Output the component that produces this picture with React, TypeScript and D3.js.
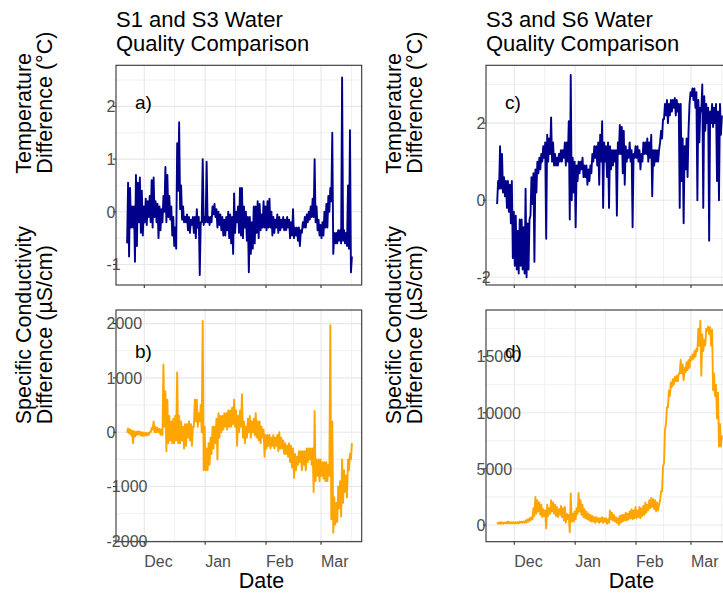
import React, { useEffect, useRef } from 'react'
import * as d3 from 'd3'

const DAY = 864e5
const firstDay = new Date(2021, 10, 22)
const monthBreaks = [new Date(2021, 11, 1), new Date(2022, 0, 1), new Date(2022, 1, 1), new Date(2022, 2, 1)]
const minorEdges = [new Date(2021, 10, 1), ...monthBreaks, new Date(2022, 3, 1)]

// daily [low, high], starting Nov 22
const tempS1S3 = [
  [-0.6,0.55],[-0.85,0.45],[-0.3,0.1],[-0.3,0.1],[-0.95,0.7],[-0.65,0.55],[-0.2,0.65],[-0.4,0.4],[-0.45,0.1],
  [-0.2,0.25],[-0.25,0.2],[-0.1,0.3],[-0.2,0.6],[-0.3,0.65],[-0.1,0.2],[-0.2,0.15],[-0.5,0.1],[-0.35,0.05],[-0.2,0.3],
  [0.0,0.85],[-0.2,0.7],[-0.1,0.3],[-0.15,0.1],[-0.45,-0.1],[-0.65,-0.3],[-0.7,1.3],[0.4,1.7],[0.05,0.5],[-0.15,0.1],
  [-0.2,-0.1],[-0.2,-0.05],[-0.35,-0.1],[-0.4,-0.15],[-0.25,-0.1],[-0.4,-0.1],[-0.5,0.05],[-0.3,-0.1],[-1.2,-0.2],[-0.2,1.0],
  [-0.25,-0.1],
  [-0.2,0.95],[-0.2,-0.1],[-0.25,-0.1],[-0.2,0.1],[-0.05,0.15],[-0.1,0.05],[-0.3,0.0],[-0.25,-0.05],[-0.35,-0.1],[-0.45,-0.15],
  [-0.45,-0.1],[-0.35,0.0],[-0.5,-0.05],[-0.6,-0.1],[-0.8,0.35],[-0.4,0.0],[-0.2,0.1],[-0.4,0.45],[-0.45,0.45],[-0.5,0.1],
  [-0.3,0.0],[-0.55,-0.1],[-1.15,-0.1],[-0.8,-0.2],[-0.7,0.1],[-0.6,0.1],[-0.4,0.2],[-0.5,0.15],[-0.35,-0.05],[-0.3,0.2],
  [-0.3,0.1],
  [-0.35,0.2],[-0.3,0.25],[-0.3,0.0],[-0.45,-0.1],[-0.4,-0.15],[-0.3,-0.05],[-0.4,-0.1],[-0.35,-0.15],[-0.3,-0.1],[-0.35,-0.15],
  [-0.35,-0.1],[-0.3,-0.15],[-0.5,-0.2],[-0.45,0.05],[-0.5,-0.3],[-0.45,-0.3],[-0.55,-0.3],[-0.65,-0.35],[-0.4,-0.2],[-0.3,-0.1],
  [-0.3,-0.05],[-0.2,0.0],[-0.15,0.1],[-0.1,0.25],[-0.1,1.0],[-0.2,0.1],[-0.35,-0.15],[-0.45,-0.25],
  [-0.5,-0.2],[-0.45,0.0],[-0.3,0.15],[-0.3,0.3],[0.0,0.45],[0.2,1.5],[-0.8,-0.4],[-0.6,-0.4],[-0.6,-0.35],[-0.55,-0.35],
  [-0.6,2.55],[-0.55,-0.35],[-0.6,-0.4],[-0.65,0.5],[-0.7,1.55],[-1.15,-0.85]
]

const condS1S3 = [
  [-10,70],[-20,50],[-50,30],[-200,20],[-80,10],[-50,20],[-40,10],[-60,0],[-70,-10],
  [-60,-10],[-60,-10],[-50,0],[0,80],[50,200],[0,100],[0,80],[0,60],[-50,50],[-50,1250],
  [100,750],[-350,600],[-200,300],[-150,200],[-200,250],[-200,300],[-150,1100],[-200,300],[-200,200],[-150,100],
  [-300,150],[-250,150],[-100,200],[-150,150],[-250,100],[100,600],[200,600],[100,350],[200,500],[0,2050],
  [-700,100],
  [-700,-300],[-700,-200],[-600,-100],[-400,100],[-300,100],[-200,250],[-500,350],[-100,300],[0,300],[50,350],
  [100,350],[50,400],[100,400],[100,450],[150,600],[100,400],[-250,300],[0,400],[100,700],[-100,200],
  [-200,100],[-100,250],[0,300],[-100,200],[0,250],[-50,350],[-100,200],[-150,200],[-200,100],[-100,50],
  [-450,-50],
  [-300,-50],[-250,-50],[-300,-100],[-250,-50],[-300,-100],[-250,-50],[-350,0],[-300,-100],[-300,-150],[-400,-200],
  [-400,-250],[-450,-200],[-550,-250],[-650,-300],[-840,-400],[-700,-450],[-600,-350],[-550,-350],[-700,-350],[-600,-350],
  [-700,-300],[-550,-300],[-500,-300],[-600,-300],[-1100,390],[-900,-500],[-800,-500],[-900,-500],
  [-800,-550],[-850,-550],[-900,-550],[-900,-600],[-800,1970],[-1600,200],[-1850,-1200],[-1700,-1300],[-1650,-1000],[-1400,-900],
  [-1550,-500],[-1300,-700],[-1100,-800],[-1200,-500],[-700,-400],[-500,-200]
]

const tempS3S6 = [
  [-0.1,0.5],[0.3,1.4],[0.3,1.2],[0.2,0.6],[0.1,0.5],[-0.2,0.5],[-0.3,0.4],[-0.6,0.5],[-1.5,-0.3],
  [-1.7,-0.4],[-1.8,-0.8],[-1.9,-0.5],[-1.7,-0.5],[-1.8,-0.7],[-1.9,0.3],[-2.0,-0.6],[-1.8,-0.5],[-0.4,0.6],[-0.1,0.7],
  [-1.6,0.8],[0.2,1.0],[0.7,1.1],[0.8,1.2],[1.0,1.4],[1.1,1.5],[-1.0,1.7],[1.0,1.6],[1.2,2.15],[1.0,1.5],
  [0.9,1.2],[0.9,1.1],[0.9,1.2],[1.0,1.3],[1.0,1.3],[1.1,1.5],[0.9,1.5],[1.0,2.05],[-0.5,3.25],[0.0,1.1],
  [0.2,1.0],
  [-0.7,0.9],[0.5,1.0],[0.7,1.0],[0.8,1.1],[0.6,0.9],[0.6,0.9],[0.4,0.8],[0.5,0.9],[0.7,1.2],[1.0,1.4],
  [1.1,1.4],[0.9,1.5],[0.4,1.7],[1.0,2.05],[-0.2,1.5],[1.0,1.4],[0.6,1.5],[-0.2,1.4],[0.8,1.3],[0.9,1.3],
  [1.0,1.3],[-0.4,1.5],[1.2,1.95],[1.2,1.9],[0.7,1.8],[0.4,1.4],[1.0,1.3],[1.1,1.5],[1.0,1.3],[-0.7,1.2],
  [1.1,1.4],
  [1.1,1.4],[1.0,1.3],[0.8,1.2],[1.0,1.5],[1.2,1.5],[1.2,1.6],[1.0,1.5],[1.1,1.7],[0.1,1.3],[0.9,1.3],
  [1.0,1.3],[1.0,1.3],[1.5,1.8],[1.6,2.1],[2.1,2.5],[2.2,2.6],[2.0,2.5],[2.2,2.6],[2.3,2.6],[2.4,2.65],
  [2.2,2.6],[2.3,2.5],[-0.2,2.5],[0.5,1.6],[-0.6,1.4],[0.8,1.6],[0.6,1.8],[2.5,2.8],
  [2.7,2.9],[2.6,2.9],[2.4,2.8],[0.0,2.6],[1.5,2.4],[2.3,3.0],[-0.2,2.7],[1.8,2.5],[2.0,2.4],[-1.05,2.3],
  [2.0,2.5],[1.9,2.4],[2.0,2.5],[0.5,2.3],[0.0,2.5],[1.7,2.2]
]

const condS3S6 = [
  [100,200],[100,250],[120,250],[100,200],[150,250],[150,300],[150,250],[150,250],[150,250],
  [150,250],[150,250],[150,300],[200,300],[200,300],[200,400],[250,500],[300,600],[400,700],[500,1500],
  [800,2500],[1000,2200],[1200,2000],[900,1800],[700,1400],[800,1300],[-300,1800],[800,1500],[1000,2200],[1200,2000],
  [1000,1800],[800,1600],[700,1400],[900,1700],[700,1500],[400,1600],[200,1000],[500,900],[-650,2800],[300,1000],
  [300,1200],
  [500,1500],[1000,2850],[1200,2200],[900,1800],[700,1400],[600,1200],[500,1000],[400,900],[300,800],[300,700],
  [200,700],[300,600],[200,600],[300,700],[200,600],[300,600],[100,500],[200,1300],[500,1100],[400,900],
  [300,700],[200,600],[0,800],[200,900],[300,900],[400,1100],[400,1000],[500,1200],[600,1400],[500,1300],
  [600,1600],
  [600,1300],[700,1600],[600,1500],[800,1700],[900,2000],[1100,1800],[1300,2200],[1500,2400],[1600,2300],[1400,2200],
  [1200,2000],[1300,1800],[2200,3000],[3000,5200],[5500,8500],[9000,10500],[10500,12000],[11500,12700],[12300,13000],[12500,13200],
  [12800,13300],[12800,13500],[13500,14700],[13500,14300],[12900,14000],[13600,14500],[13800,14700],[14000,15000],
  [14700,15200],[14800,15500],[15000,15700],[15500,17500],[16000,18200],[13300,17000],[15500,16500],[16000,17500],[17300,17700],[17000,17600],
  [16000,17400],[12000,13500],[11500,12500],[9500,11800],[7000,9000],[7000,8000]
]

const tempTicksA = [-1, 0, 1, 2]
const condTicksB = [-2000, -1000, 0, 1000, 2000]
const tempTicksC = [-2, 0, 2]
const condTicksD = [0, 5000, 10000, 15000]

const titleLeft = ['S1 and S3 Water', 'Quality Comparison']
const titleRight = ['S3 and S6 Water', 'Quality Comparison']
const tempTitle = ['Temperature', 'Difference (°C)']
const condTitle = ['Specific Conductivity', 'Difference (µS/cm)']

const navy = '#00008B'
const orange = '#FFA500'
const font = 'Liberation Sans, Arial, Helvetica, sans-serif'

function App() {
  const ref = useRef<SVGSVGElement>(null)

  useEffect(() => {
    const svg = d3.select(ref.current)
    svg.selectAll('*').remove()

    const panelW = 245.7
    const xStart = new Date(monthBreaks[0].getTime() - 14.41 * DAY)
    const xEnd = new Date(monthBreaks[3].getTime() + 20.73 * DAY)

    const panels = [
      { data: tempS1S3, x0: 116, y0: 65.3, h: 219.7, domain: [-1.39, 2.78], ticks: tempTicksA, color: navy, tag: 'a)', tagY: 108.5, dates: false, title: titleLeft, ytitle: tempTitle },
      { data: condS1S3, x0: 116, y0: 310, h: 231.7, domain: [-2015, 2250], ticks: condTicksB, color: orange, tag: 'b)', tagY: 357.5, dates: true, title: null, ytitle: condTitle },
      { data: tempS3S6, x0: 486, y0: 65.3, h: 219.7, domain: [-2.2, 3.5], ticks: tempTicksC, color: navy, tag: 'c)', tagY: 108.5, dates: false, title: titleRight, ytitle: tempTitle },
      { data: condS3S6, x0: 486, y0: 310, h: 231.7, domain: [-1490, 19160], ticks: condTicksD, color: orange, tag: 'd)', tagY: 357.5, dates: true, title: null, ytitle: condTitle }
    ]

    const minorX = d3.pairs(minorEdges).map(([a, b]) => new Date((a.getTime() + b.getTime()) / 2))

    panels.forEach((p, i) => {
      const x = d3.scaleTime().domain([xStart, xEnd]).range([p.x0, p.x0 + panelW])
      const y = d3.scaleLinear().domain(p.domain).range([p.y0 + p.h, p.y0])
      const g = svg.append('g')

      const step = p.ticks[1] - p.ticks[0]
      const minorY = [p.ticks[0] - step / 2, ...p.ticks.map(t => t + step / 2)]
        .filter(v => v > p.domain[0] && v < p.domain[1])

      // grid
      g.selectAll('.gminx').data(minorX.filter(d => d > xStart && d < xEnd)).enter().append('line')
        .attr('x1', d => x(d)).attr('x2', d => x(d)).attr('y1', p.y0).attr('y2', p.y0 + p.h)
        .attr('stroke', '#ebebeb').attr('stroke-width', 0.7)
      g.selectAll('.gminy').data(minorY).enter().append('line')
        .attr('x1', p.x0).attr('x2', p.x0 + panelW).attr('y1', d => y(d)).attr('y2', d => y(d))
        .attr('stroke', '#ebebeb').attr('stroke-width', 0.7)
      g.selectAll('.gx').data(monthBreaks).enter().append('line')
        .attr('x1', d => x(d)).attr('x2', d => x(d)).attr('y1', p.y0).attr('y2', p.y0 + p.h)
        .attr('stroke', '#e8e8e8').attr('stroke-width', 1.1)
      g.selectAll('.gy').data(p.ticks).enter().append('line')
        .attr('x1', p.x0).attr('x2', p.x0 + panelW).attr('y1', d => y(d)).attr('y2', d => y(d))
        .attr('stroke', '#e8e8e8').attr('stroke-width', 1.1)

      // series
      const pts = p.data.flatMap((pair, k) => pair.map((v, j) => ({
        t: new Date(firstDay.getTime() + (k + 0.25 + 0.5 * j) * DAY), v
      })))
      const clipId = 'clip' + i
      svg.append('clipPath').attr('id', clipId).append('rect')
        .attr('x', p.x0).attr('y', p.y0).attr('width', panelW).attr('height', p.h)
      g.append('path')
        .datum(pts)
        .attr('clip-path', `url(#${clipId})`)
        .attr('fill', 'none')
        .attr('stroke', p.color)
        .attr('stroke-width', 1.9)
        .attr('stroke-linejoin', 'round')
        .attr('d', d3.line<{ t: Date, v: number }>().x(d => x(d.t)).y(d => y(d.v)))

      // border
      g.append('rect').attr('x', p.x0).attr('y', p.y0).attr('width', panelW).attr('height', p.h)
        .attr('fill', 'none').attr('stroke', '#333333').attr('stroke-width', 1.1)

      // ticks
      g.selectAll('.tx').data(monthBreaks).enter().append('line')
        .attr('x1', d => x(d)).attr('x2', d => x(d)).attr('y1', p.y0 + p.h).attr('y2', p.y0 + p.h + 3)
        .attr('stroke', '#333333').attr('stroke-width', 1.1)
      g.selectAll('.ty').data(p.ticks).enter().append('line')
        .attr('x1', p.x0 - 3).attr('x2', p.x0).attr('y1', d => y(d)).attr('y2', d => y(d))
        .attr('stroke', '#333333').attr('stroke-width', 1.1)

      g.selectAll('.ly').data(p.ticks).enter().append('text')
        .attr('x', p.x0 - 9.5).attr('y', d => y(d)).attr('dy', '0.36em')
        .attr('font-family', font).attr('font-size', 16).attr('fill', '#4d4d4d')
        .text(d => String(d))

      if (p.dates) {
        g.selectAll('.lx').data(monthBreaks).enter().append('text')
          .attr('x', d => x(d)).attr('y', 567)
          .attr('font-family', font).attr('font-size', 16).attr('fill', '#4d4d4d')
          .text(d => d3.timeFormat('%b')(d))
        g.append('text').attr('x', p.x0 + panelW / 2).attr('y', 588)
          .attr('font-family', font).attr('font-size', 21.5).attr('fill', '#000')
          .text('Date')
      }

      // panel tag
      g.append('text').attr('x', p.x0 + 19).attr('y', p.tagY)
        .attr('font-family', font).attr('font-size', 19).attr('fill', '#000')
        .text(p.tag)

      // y title, two lines starting at panel centre
      const yc = p.y0 + p.h / 2 - 1.5
      p.ytitle.forEach((line, j) => {
        g.append('text')
          .attr('transform', `translate(${p.x0 - 85.5 + j * 21.5},${yc}) rotate(-90)`)
          .attr('font-family', font).attr('font-size', 21.5).attr('fill', '#000')
          .text(line)
      })

      if (p.title) {
        p.title.forEach((line, j) => {
          g.append('text').attr('x', p.x0).attr('y', 26.5 + j * 24)
            .attr('font-family', font).attr('font-size', 22).attr('fill', '#000')
            .text(line)
        })
      }
    })
  }, [])

  return (
    <svg ref={ref} width={723} height={593}
      style={{ position: 'absolute', left: 0, top: 0, display: 'block', background: '#fff' }} />
  )
}

export default App
